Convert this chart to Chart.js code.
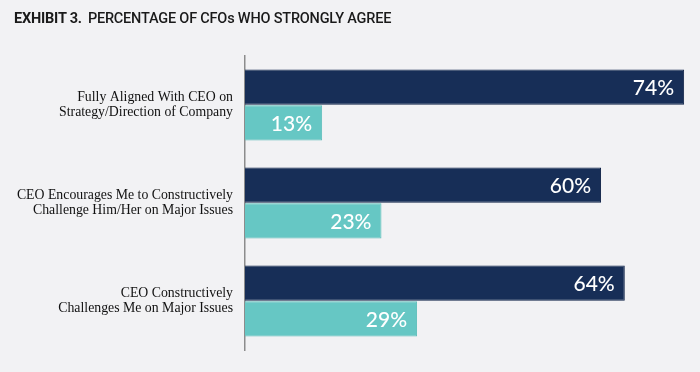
<!DOCTYPE html>
<html>
<head>
<meta charset="utf-8">
<script src="https://cdn.jsdelivr.net/npm/chart.js@4"></script>
<style>
  html, body { margin: 0; padding: 0; background: #f2f2f4; }
  #wrap { position: relative; width: 700px; height: 372px; }
  #title {
    position: absolute; left: 14px; top: 10px;
    font-family: Roboto, "Liberation Sans", sans-serif; font-size: 14.5px;
    color: #1a1a1a; letter-spacing: -0.2px; font-weight: 500;
  }
  #title b { font-weight: 700; margin-right: 6px; }
</style>
</head>
<body>
<div id="wrap">
  <div id="title"><b>EXHIBIT 3.</b>PERCENTAGE OF CFOs WHO STRONGLY AGREE</div>
  <canvas id="chart" width="700" height="372"></canvas>
</div>
<script>
/* =============== Data =============== */
const categories = [
  ["Fully Aligned With CEO on", "Strategy/Direction of Company"],
  ["CEO Encourages Me to Constructively", "Challenge Him/Her on Major Issues"],
  ["CEO Constructively", "Challenges Me on Major Issues"]
];
const seriesNames = ["Series A", "Series B"];
const navyValues = [74, 60, 64];
const tealValues = [13, 23, 29];

/* =============== Value labels (inside bar end) =============== */
const valueLabels = {
  id: "valueLabels",
  afterDatasetsDraw(chart) {
    const ctx = chart.ctx;
    ctx.save();
    ctx.font = "500 21px Lato, 'Open Sans', sans-serif";
    ctx.fillStyle = "#ffffff";
    ctx.textAlign = "right";
    ctx.textBaseline = "middle";
    chart.data.datasets.forEach((ds, i) => {
      chart.getDatasetMeta(i).data.forEach((bar, j) => {
        ctx.fillText(ds.data[j] + "%", bar.x - 10, bar.y + 1);
      });
    });
    ctx.restore();
  }
};

/* =============== Chart =============== */
new Chart(document.getElementById("chart"), {
  type: "bar",
  data: {
    labels: categories,
    datasets: [
      { label: seriesNames[0], data: navyValues, backgroundColor: "#172e57",
        borderColor: "#0f2247", borderWidth: 1 },
      { label: seriesNames[1], data: tealValues, backgroundColor: "#66c7c4",
        borderColor: "#5bbdb9", borderWidth: 1 }
    ]
  },
  options: {
    indexAxis: "y",
    responsive: false,
    animation: false,
    layout: { padding: { top: 56, bottom: 22, right: 4, left: 0 } },
    datasets: { bar: { categoryPercentage: 0.73, barPercentage: 0.98 } },
    plugins: { legend: { display: false }, tooltip: { enabled: false } },
    scales: {
      x: { display: false, min: 0, max: 76 },
      y: {
        afterFit(scale) { scale.width = 245; },
        grid: { display: false },
        border: { display: true, color: "#8c8c8c", width: 1.5 },
        ticks: {
          color: "#111111",
          padding: 4,
          font: { family: "'Liberation Serif', serif", size: 13.8, lineHeight: 1.05 }
        }
      }
    }
  },
  plugins: [valueLabels]
});
</script>
</body>
</html>
